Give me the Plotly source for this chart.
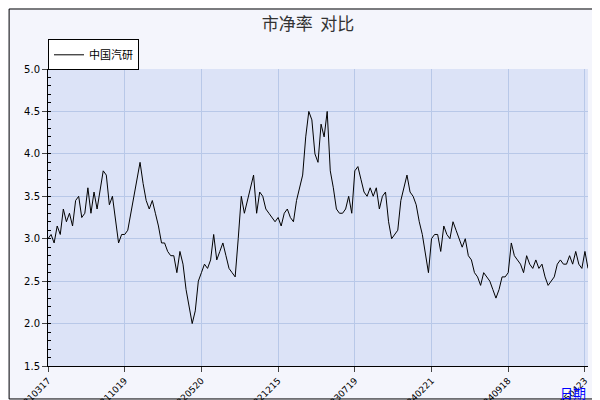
import plotly.graph_objects as go

values = [3.0,3.05,2.95,3.15,3.05,3.35,3.2,3.3,3.15,3.45,3.5,3.25,3.3,3.6,3.3,3.55,3.35,3.6,3.8,3.75,3.4,3.5,3.25,2.95,3.05,
          3.05,3.1,3.3,3.5,3.7,3.9,3.65,3.45,3.35,3.45,3.3,3.15,2.95,2.95,2.85,2.8,2.8,2.6,2.85,2.7,2.4,2.2,2.0,2.15,2.5,
          2.6,2.7,2.65,2.75,3.05,2.75,2.85,2.95,2.8,2.65,2.6,2.55,3.0,3.5,3.3,3.45,3.6,3.75,3.3,3.55,3.5,3.35,3.3,3.25,3.2,
          3.25,3.15,3.3,3.35,3.25,3.2,3.45,3.6,3.75,4.2,4.5,4.4,4.0,3.9,4.35,4.2,4.5,3.8,3.6,3.35,3.3,3.3,3.35,3.5,3.3,
          3.8,3.85,3.7,3.55,3.5,3.6,3.5,3.6,3.35,3.5,3.55,3.2,3.0,3.05,3.1,3.45,3.6,3.75,3.55,3.5,3.4,3.2,3.05,2.8,2.6,
          3.0,3.05,3.05,2.85,3.15,3.05,3.0,3.2,3.1,3.0,2.9,3.0,2.8,2.75,2.6,2.55,2.45,2.6,2.55,2.5,2.4,2.3,2.4,2.55,2.55,
          2.6,2.95,2.8,2.75,2.7,2.6,2.8,2.7,2.65,2.75,2.65,2.7,2.55,2.45,2.5,2.55,2.7,2.75,2.7,2.7,2.8,2.7,2.85,2.7,2.65,2.85,2.65]
tick_labels = ["20210317","20211019","20220520","20221215","20230719","20240221","20240918","20250423"]
tick_step = 25

x = list(range(len(values)))
fig = go.Figure(go.Scatter(x=x, y=values, mode="lines", name="中国汽研",
                           line=dict(color="black", width=1)))
fig.update_layout(
    width=600, height=400,
    margin=dict(l=40, r=20, t=61, b=42, autoexpand=False),
    paper_bgcolor="#f4f5fc", plot_bgcolor="#dce3f7",
    font=dict(family="DejaVu Sans", size=10, color="black"),
    title=dict(text="市净率  对比", x=0.5, y=0.975, xanchor="center",
               font=dict(family="Noto Sans CJK SC", size=17, color="#333")),
    showlegend=True,
    legend=dict(x=0.0, y=1.10, xanchor="left", yanchor="top", bgcolor="white",
                bordercolor="black", borderwidth=1, font=dict(family="Noto Sans CJK SC", size=11)),
    shapes=[dict(type="rect", xref="paper", yref="paper", x0=-0.072, x1=1.017, y0=-0.111, y1=1.202,
                 line=dict(color="black", width=1))],
    annotations=[dict(text="日期", xref="paper", yref="paper", x=1.0, y=-0.05, showarrow=False,
                      xanchor="right", yanchor="top", font=dict(color="blue", size=13, family="Noto Sans CJK SC"))],
)
fig.update_xaxes(range=[0, len(values) - 1], tickvals=[i * tick_step for i in range(len(tick_labels))],
                 ticktext=tick_labels, tickangle=-45, showgrid=True, gridcolor="#b8c8e8",
                 ticks="outside", ticklen=5, showline=True, linecolor="black", zeroline=False,
                 tickfont=dict(size=9), automargin=False)
fig.update_yaxes(range=[1.5, 5.0], dtick=0.5, tickformat=".1f", showgrid=True, gridcolor="#b8c8e8",
                 ticks="outside", ticklen=5, showline=True, linecolor="black", zeroline=False,
                 automargin=False,
                 minor=dict(dtick=0.1, ticks="inside", ticklen=3, tickcolor="black"))
fig.write_html("out.html")
